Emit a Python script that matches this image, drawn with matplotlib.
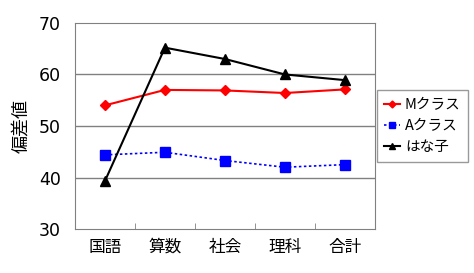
import matplotlib.pyplot as plt
import numpy as np

plt.rcParams['font.family'] = ['Noto Sans CJK JP', 'DejaVu Sans']

subjects = ["国語", "算数", "社会", "理科", "合計"]
m_class = [54.0, 57.0, 56.9, 56.4, 57.1]
a_class = [44.4, 44.9, 43.3, 42.0, 42.5]
hanako = [39.3, 65.2, 63.0, 60.0, 58.9]

fig = plt.figure(figsize=(4.74, 2.73), dpi=100)
ax = fig.add_axes([0.158, 0.161, 0.633, 0.755])

x = np.arange(len(subjects))
ax.plot(x, m_class, color='#ff0000', marker='D', markersize=5, lw=1.5, label="Mクラス", zorder=3)
ax.plot(x, a_class, color='#0000ff', marker='s', markersize=7, lw=1.2, ls=(0, (1.5, 1.5)), label="Aクラス", zorder=3)
ax.plot(x, hanako, color='black', marker='^', markersize=7, lw=1.5, label="はな子", zorder=4)

ax.set_xlim(-0.5, len(subjects) - 0.5)
ax.set_ylim(30, 70)
ax.set_yticks([30, 40, 50, 60, 70])
ax.set_xticks(x)
ax.set_xticklabels(subjects, fontsize=12)
ax.set_xticks(np.arange(0.5, len(subjects) - 0.5), minor=True)
ax.tick_params(axis='x', which='major', length=0, pad=7)
ax.tick_params(axis='x', which='minor', length=4, direction='in', color='#808080')
ax.tick_params(axis='y', length=0, pad=10)
for lbl in ax.get_yticklabels():
    lbl.set_fontfamily('DejaVu Sans')
    lbl.set_fontsize(12.5)
ax.set_ylabel("偏差値", fontsize=13, labelpad=6)

for v in [40, 50, 60]:
    ax.axhline(v, color='#808080', lw=1, zorder=1)
for s in ax.spines.values():
    s.set_color('#808080')

leg = ax.legend(loc='center left', bbox_to_anchor=(1.0, 0.5), fontsize=10.5,
                frameon=True, fancybox=False, edgecolor='#808080',
                handlelength=1.1, markerscale=0.7, borderpad=0.5, labelspacing=0.5,
                handletextpad=0.3, borderaxespad=0.15)
leg.get_frame().set_linewidth(1)

fig.savefig("out.png", dpi=100)
